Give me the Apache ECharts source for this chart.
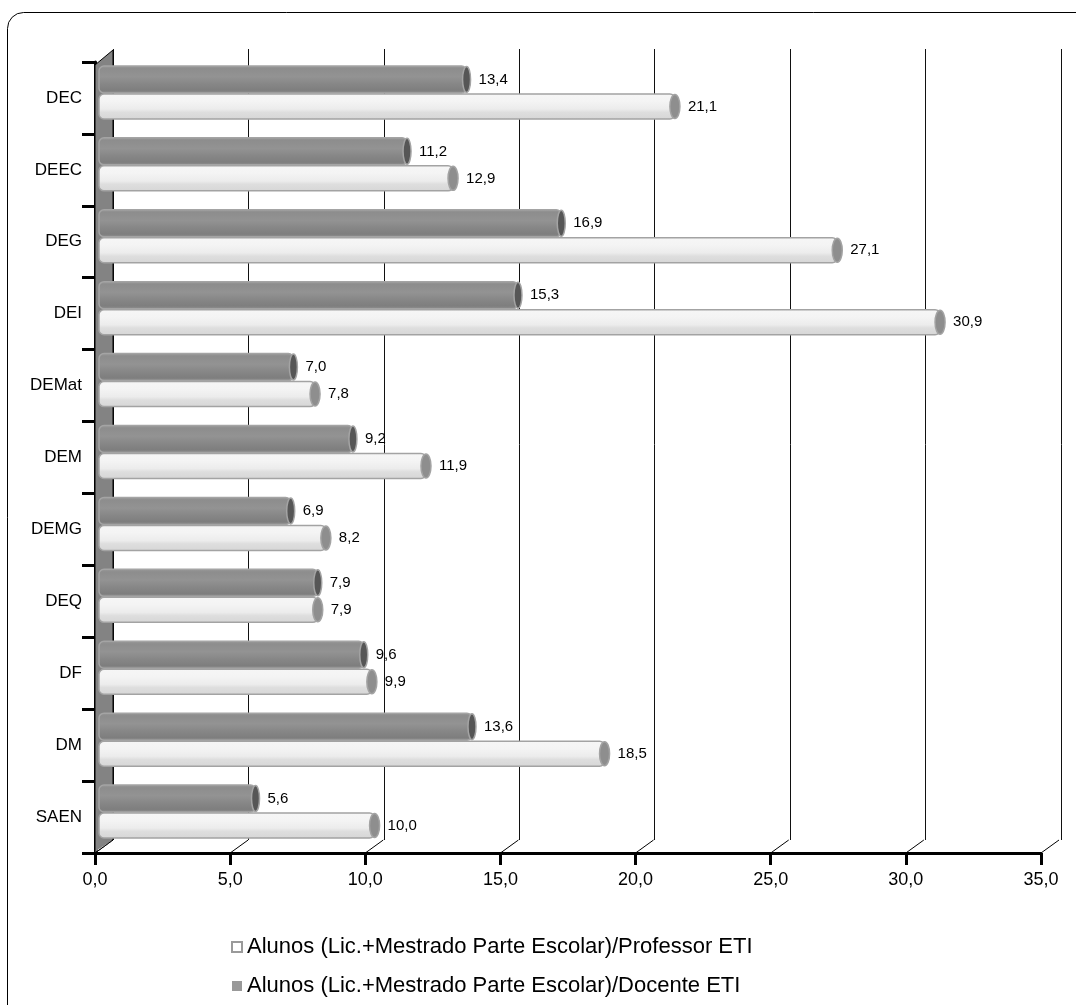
<!DOCTYPE html>
<html>
<head>
<meta charset="utf-8">
<script src="https://cdn.jsdelivr.net/npm/echarts@6/dist/echarts.min.js"></script>
<style>
  html, body { margin: 0; padding: 0; background: #fff; }
  #chart { width: 1076px; height: 1005px; }
</style>
</head>
<body>
<div id="chart"></div>
<script>
// Student / staff ratios per department
const categories = ['DEC', 'DEEC', 'DEG', 'DEI', 'DEMat', 'DEM', 'DEMG', 'DEQ', 'DF', 'DM', 'SAEN'];
const professorRatio = [21.1, 12.9, 27.1, 30.9, 7.8, 11.9, 8.2, 7.9, 9.9, 18.5, 10.0];
const docenteRatio = [13.4, 11.2, 16.9, 15.3, 7.0, 9.2, 6.9, 7.9, 9.6, 13.6, 5.6];
const xTicks = [0, 5, 10, 15, 20, 25, 30, 35];
const seriesNames = [
  'Alunos (Lic.+Mestrado Parte Escolar)/Professor ETI',
  'Alunos (Lic.+Mestrado Parte Escolar)/Docente ETI'
];

const FONT = 'Liberation Sans, Arial, sans-serif';
const fmt = v => v.toFixed(1).replace('.', ',');

// pseudo-3D depth: back wall offset from the front axes
const DEPTH_X = 18, DEPTH_Y = 13;
const FRONT = { left: 95, top: 62, width: 946, height: 791 };

// cylinder looks for the two series
const looks = {
  dark: {
    shift: -12, height: 27, capRx: 4,
    rim: '#a4a4a4', cap: '#565656',
    body: { type: 'linear', x: 0, y: 0, x2: 0, y2: 1, colorStops: [
      { offset: 0, color: '#9c9c9c' }, { offset: 0.12, color: '#8d8d8d' },
      { offset: 0.4, color: '#939393' }, { offset: 0.65, color: '#878787' },
      { offset: 0.88, color: '#7e7e7e' }, { offset: 1, color: '#949494' } ] }
  },
  light: {
    shift: 15, height: 25, capRx: 5,
    rim: '#a3a3a3', cap: '#8e8e8e',
    body: { type: 'linear', x: 0, y: 0, x2: 0, y2: 1, colorStops: [
      { offset: 0, color: '#f6f6f6' }, { offset: 0.3, color: '#f4f4f4' },
      { offset: 0.6, color: '#ececec' }, { offset: 0.72, color: '#dedede' },
      { offset: 1, color: '#d6d6d6' } ] }
  }
};

function cylinderBar(look) {
  return function (params, api) {
    const v = api.value(0), cat = api.value(1);
    const start = api.coord([0, cat]);
    const end = api.coord([v, cat]);
    const cy = start[1] + look.shift;
    const h = look.height;
    const x0 = start[0], x1 = end[0];
    return {
      type: 'group',
      children: [
        { type: 'rect', shape: { x: x0 - 5, y: cy - h / 2, width: x1 - x0 + 5, height: h, r: 5 },
          style: { fill: look.body, stroke: look.rim, lineWidth: 1.5 } },
        { type: 'ellipse', shape: { cx: x1, cy: cy, rx: look.capRx, ry: h / 2 - 0.5 },
          style: { fill: look.cap, stroke: look.rim, lineWidth: 1.5 } },
        { type: 'text', style: { text: fmt(v), x: x1 + look.capRx + 8, y: cy,
          verticalAlign: 'middle', align: 'left', fontSize: 15, fontFamily: FONT, fill: '#000' } }
      ]
    };
  };
}

// floor diagonals linking each front tick to its back-wall gridline
function floorDiagonal(params, api) {
  const x = api.coord([api.value(0), 0])[0];
  const bottom = params.coordSys.y + params.coordSys.height;
  return { type: 'line', shape: { x1: x, y1: bottom, x2: x + DEPTH_X, y2: bottom - DEPTH_Y },
    style: { stroke: '#000', lineWidth: 1 } };
}

const chart = echarts.init(document.getElementById('chart'), null, { renderer: 'canvas' });

chart.setOption({
  animation: false,
  backgroundColor: '#fff',
  grid: [
    // front: axes and labels
    { left: FRONT.left, top: FRONT.top, width: FRONT.width, height: FRONT.height },
    // back wall: gridlines
    { left: FRONT.left + DEPTH_X, top: FRONT.top - DEPTH_Y, width: FRONT.width + 2, height: FRONT.height },
    // mid depth: bars
    { left: FRONT.left + DEPTH_X / 2, top: FRONT.top - 6.5, width: FRONT.width + 1, height: FRONT.height }
  ],
  xAxis: [
    { gridIndex: 0, type: 'value', min: 0, max: 35, interval: 5,
      axisLine: { show: true, lineStyle: { color: '#000', width: 3 } },
      axisTick: { show: true, length: 12, lineStyle: { color: '#000', width: 3 } },
      axisLabel: { fontSize: 18, fontFamily: FONT, color: '#000', margin: 18, formatter: v => fmt(v) },
      splitLine: { show: false } },
    { gridIndex: 1, type: 'value', min: 0, max: 35, interval: 5,
      axisLine: { show: false }, axisTick: { show: false }, axisLabel: { show: false },
      splitLine: { show: true, lineStyle: { color: '#111', width: 1 } } },
    { gridIndex: 2, type: 'value', min: 0, max: 35, interval: 5, show: false }
  ],
  yAxis: [
    { gridIndex: 0, type: 'category', data: categories, inverse: true,
      axisLine: { show: true, lineStyle: { color: '#000', width: 3 } },
      axisTick: { show: true, length: 13, lineStyle: { color: '#000', width: 3 } },
      axisLabel: { fontSize: 17, fontFamily: FONT, color: '#000', margin: 13 } },
    { gridIndex: 1, type: 'category', data: categories, inverse: true, show: false },
    { gridIndex: 2, type: 'category', data: categories, inverse: true, show: false }
  ],
  legend: {
    orient: 'vertical', left: 226, top: 931, padding: 5,
    itemWidth: 10, itemHeight: 10, itemGap: 17,
    textStyle: { fontSize: 22, fontFamily: FONT, color: '#000' },
    data: [
      { name: seriesNames[0], icon: 'rect', itemStyle: { color: '#fff', borderColor: '#9a9a9a', borderWidth: 2 } },
      { name: seriesNames[1], icon: 'rect', itemStyle: { color: '#999999', borderWidth: 0 } }
    ]
  },
  graphic: [
    // outer frame
    { type: 'rect', z: 0, shape: { x: 7.5, y: 12.5, width: 1085, height: 1010, r: 16 },
      style: { fill: 'none', stroke: '#000', lineWidth: 1 } },
    // left side wall
    { type: 'polygon', z: 1,
      shape: { points: [
        [FRONT.left, FRONT.top + 3], [FRONT.left + DEPTH_X, FRONT.top - DEPTH_Y + 1],
        [FRONT.left + DEPTH_X, FRONT.top + FRONT.height - DEPTH_Y],
        [FRONT.left, FRONT.top + FRONT.height] ] },
      style: { fill: '#838383', stroke: '#000', lineWidth: 1 } },
    { type: 'line', z: 1,
      shape: { x1: FRONT.left + 3, y1: FRONT.top + FRONT.height - 3, x2: FRONT.left + DEPTH_X - 1, y2: FRONT.top + FRONT.height - DEPTH_Y + 1 },
      style: { stroke: '#e8e8e8', lineWidth: 1 } }
  ],
  series: [
    { type: 'custom', name: seriesNames[0], xAxisIndex: 2, yAxisIndex: 2, z: 3,
      itemStyle: { color: '#fff' },
      encode: { x: 0, y: 1 },
      data: professorRatio.map((v, i) => [v, i]),
      renderItem: cylinderBar(looks.light) },
    { type: 'custom', name: seriesNames[1], xAxisIndex: 2, yAxisIndex: 2, z: 4,
      itemStyle: { color: '#999' },
      encode: { x: 0, y: 1 },
      data: docenteRatio.map((v, i) => [v, i]),
      renderItem: cylinderBar(looks.dark) },
    { type: 'custom', xAxisIndex: 0, yAxisIndex: 0, z: 2, silent: true,
      encode: { x: 0 },
      data: xTicks.map(v => [v]),
      renderItem: floorDiagonal }
  ]
});
</script>
</body>
</html>
